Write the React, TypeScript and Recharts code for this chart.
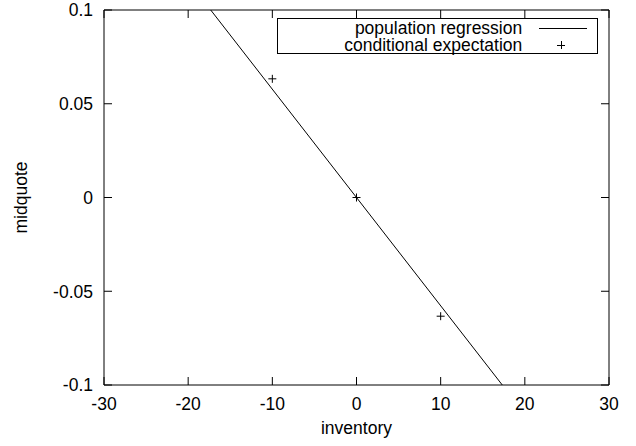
import React from 'react';
import { ComposedChart, Line, Scatter, XAxis, YAxis, Legend, Label } from 'recharts';

// fitted population regression, endpoints across the inventory range
const regression = [
  { x: -30, y: 0.1732 },
  { x: 30, y: -0.1732 },
];

// conditional expectation of the midquote at each inventory level
const expectation = [
  { x: -10, y: 0.0633 },
  { x: 0, y: 0 },
  { x: 10, y: -0.0633 },
];

const xTicks = [-30, -20, -10, 0, 10, 20, 30];
const yTicks = [-0.1, -0.05, 0, 0.05, 0.1];

const FONT = '"Liberation Sans", Arial, Helvetica, sans-serif';
const FS = 17.5;
const TICK = 8;

const BottomTick = ({ x, y, payload }: any) => (
  <g>
    <line x1={x} y1={y} x2={x} y2={y - TICK} stroke="#000" strokeWidth={1} />
    <text x={x} y={y + 24.5} textAnchor="middle" fontSize={FS} fontFamily={FONT} fill="#000">
      {String(payload.value)}
    </text>
  </g>
);

const LeftTick = ({ x, y, payload }: any) => (
  <g>
    <line x1={x} y1={y} x2={x + TICK} y2={y} stroke="#000" strokeWidth={1} />
    <text x={x - 11} y={y + 6.3} textAnchor="end" fontSize={FS} fontFamily={FONT} fill="#000">
      {String(payload.value)}
    </text>
  </g>
);

const TopTick = ({ x, y }: any) => (
  <line x1={x} y1={y} x2={x} y2={y + TICK} stroke="#000" strokeWidth={1} />
);

const RightTick = ({ x, y }: any) => (
  <line x1={x} y1={y} x2={x - TICK} y2={y} stroke="#000" strokeWidth={1} />
);

const Plus = ({ cx, cy }: any) => (
  <g stroke="#000" strokeWidth={1}>
    <line x1={cx - 4} y1={cy} x2={cx + 4} y2={cy} />
    <line x1={cx} y1={cy - 4} x2={cx} y2={cy + 4} />
  </g>
);

const KeyBox = () => (
  <div
    style={{
      border: '1px solid #000',
      boxSizing: 'border-box',
      width: 321,
      height: 36,
      paddingTop: 1,
      fontFamily: FONT,
      fontSize: FS,
      lineHeight: '16.5px',
      color: '#000',
      background: '#fff',
    }}
  >
    <div style={{ display: 'flex', alignItems: 'center', height: 16.5 }}>
      <span style={{ width: 245, textAlign: 'right', whiteSpace: 'nowrap' }}>population regression</span>
      <span style={{ width: 75, position: 'relative', height: 16.5 }}>
        <span style={{ position: 'absolute', left: 17, width: 48, top: 8, borderTop: '1px solid #000' }} />
      </span>
    </div>
    <div style={{ display: 'flex', alignItems: 'center', height: 16.5 }}>
      <span style={{ width: 245, textAlign: 'right', whiteSpace: 'nowrap' }}>conditional expectation</span>
      <span style={{ width: 75, position: 'relative', height: 16.5 }}>
        <span style={{ position: 'absolute', left: 35, top: 4, width: 8, height: 8 }}>
          <span style={{ position: 'absolute', left: 0, top: 4, width: 8, borderTop: '1px solid #000' }} />
          <span style={{ position: 'absolute', left: 4, top: 0, height: 8, borderLeft: '1px solid #000' }} />
        </span>
      </span>
    </div>
  </div>
);

export default function App() {
  return (
    <div style={{ position: 'absolute', left: 0, top: 0, width: 636, height: 446, background: '#fff' }}>
      <ComposedChart width={636} height={446} margin={{ top: 9, right: 26, bottom: 60, left: 103 }}>
        <XAxis
          dataKey="x"
          type="number"
          domain={[-30, 30]}
          ticks={xTicks}
          allowDataOverflow
          height={1}
          tickSize={0}
          tickMargin={0}
          tick={<BottomTick />}
          tickLine={false}
          axisLine={{ stroke: '#000', strokeWidth: 1 }}
          interval={0}
        >
          <Label
            content={({ viewBox }: any) => (
              <text
                x={viewBox.x + viewBox.width / 2}
                y={viewBox.y + 48.5}
                textAnchor="middle"
                fontSize={FS}
                fontFamily={FONT}
                fill="#000"
              >
                inventory
              </text>
            )}
          />
        </XAxis>
        <XAxis
          xAxisId="top"
          orientation="top"
          dataKey="x"
          type="number"
          domain={[-30, 30]}
          ticks={xTicks}
          allowDataOverflow
          height={1}
          tickSize={0}
          tickMargin={0}
          tick={<TopTick />}
          tickLine={false}
          axisLine={{ stroke: '#000', strokeWidth: 1 }}
          interval={0}
        />
        <YAxis
          dataKey="y"
          type="number"
          domain={[-0.1, 0.1]}
          ticks={yTicks}
          allowDataOverflow
          width={1}
          tickSize={0}
          tickMargin={0}
          tick={<LeftTick />}
          tickLine={false}
          axisLine={{ stroke: '#000', strokeWidth: 1 }}
          interval={0}
        >
          <Label
            content={({ viewBox }: any) => {
              const lx = viewBox.x + viewBox.width - 77.5;
              const ly = viewBox.y + viewBox.height / 2;
              return (
                <text
                  x={lx}
                  y={ly}
                  transform={`rotate(-90 ${lx} ${ly})`}
                  textAnchor="middle"
                  fontSize={FS}
                  fontFamily={FONT}
                  fill="#000"
                >
                  midquote
                </text>
              );
            }}
          />
        </YAxis>
        <YAxis
          yAxisId="right"
          orientation="right"
          dataKey="y"
          type="number"
          domain={[-0.1, 0.1]}
          ticks={yTicks}
          allowDataOverflow
          width={1}
          tickSize={0}
          tickMargin={0}
          tick={<RightTick />}
          tickLine={false}
          axisLine={{ stroke: '#000', strokeWidth: 1 }}
          interval={0}
        />
        <Line
          data={regression}
          dataKey="y"
          type="linear"
          stroke="#000"
          strokeWidth={1}
          dot={false}
          activeDot={false}
          isAnimationActive={false}
        />
        <Scatter data={expectation} dataKey="y" shape={<Plus />} isAnimationActive={false} />
        <Legend
          layout="vertical"
          align="center"
          verticalAlign="middle"
          content={() => <KeyBox />}
          wrapperStyle={{ position: 'absolute', left: 277, top: 18, width: 321, height: 36 }}
        />
      </ComposedChart>
    </div>
  );
}
